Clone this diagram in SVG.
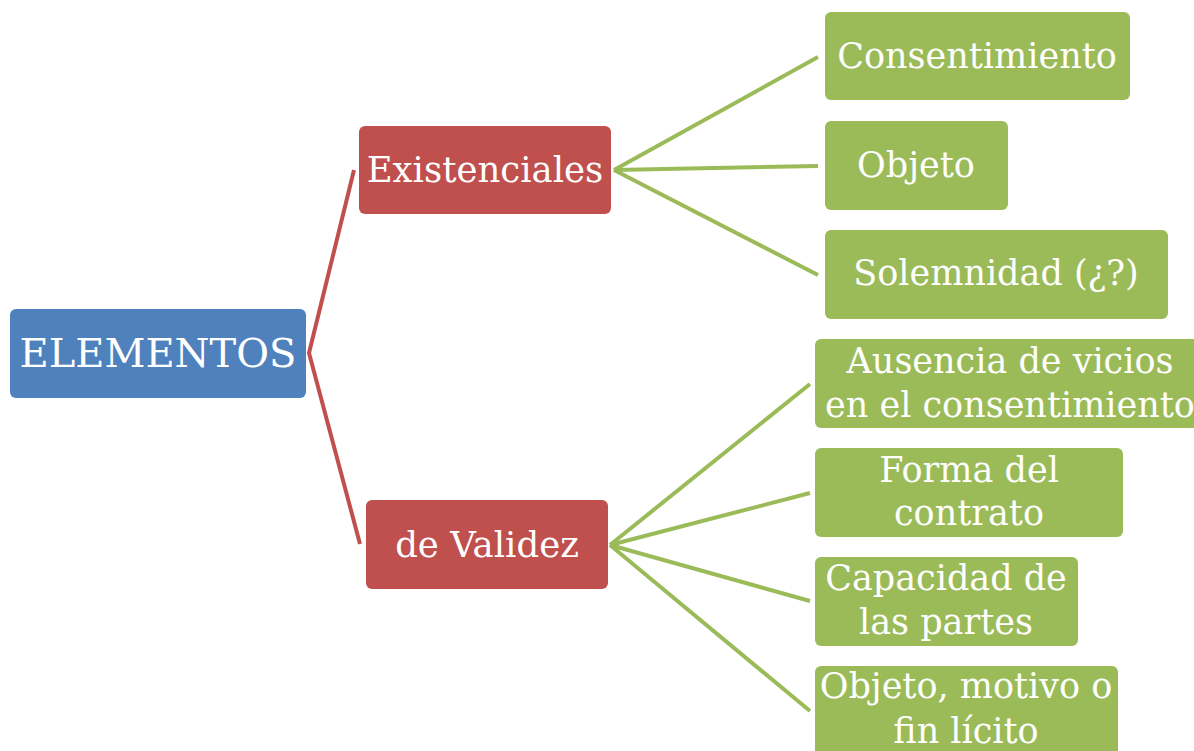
<svg xmlns="http://www.w3.org/2000/svg" width="1194" height="751" viewBox="0 0 1194 751">
<style>
.blue{fill:#4F81BD}
.red{fill:#C0504D}
.green{fill:#9BBB59}
text{font-family:"DejaVu Serif","Liberation Serif",serif;fill:#fff;text-anchor:middle}
.t1{font-size:40px}
.t2{font-size:35.5px}
.t3{font-size:35px}
.cr{fill:none;stroke:#C0504D;stroke-width:4}
.cg{fill:none;stroke:#9BBB59;stroke-width:4}
</style>
<rect width="1194" height="751" fill="#fff"/>
<g id="connectors">
<polyline class="cr" points="354,170 309,353 360,544"/>
<line class="cg" x1="614" y1="170" x2="818" y2="57"/>
<line class="cg" x1="614" y1="170" x2="818" y2="166"/>
<line class="cg" x1="614" y1="170" x2="818" y2="275"/>
<line class="cg" x1="610" y1="545" x2="810" y2="384"/>
<line class="cg" x1="610" y1="545" x2="810" y2="493"/>
<line class="cg" x1="610" y1="545" x2="810" y2="601"/>
<line class="cg" x1="610" y1="545" x2="810" y2="711"/>
</g>
<g id="n-elementos"><rect class="blue" x="10" y="309" width="296" height="89" rx="6"/><text class="t1" x="158" y="367">ELEMENTOS</text></g>
<g id="n-existenciales"><rect class="red" x="359" y="126" width="252" height="88" rx="6"/><text class="t2" x="485" y="182">Existenciales</text></g>
<g id="n-validez"><rect class="red" x="366" y="500" width="242" height="89" rx="6"/><text class="t2" x="487" y="557">de Validez</text></g>
<g id="n-consentimiento"><rect class="green" x="825" y="12" width="305" height="88" rx="6"/><text class="t3" x="977" y="68">Consentimiento</text></g>
<g id="n-objeto"><rect class="green" x="825" y="121" width="183" height="89" rx="6"/><text class="t3" x="916" y="177">Objeto</text></g>
<g id="n-solemnidad"><rect class="green" x="825" y="230" width="343" height="89" rx="6"/><text class="t3" x="996" y="285">Solemnidad (¿?)</text></g>
<g id="n-ausencia"><rect class="green" x="815" y="339" width="390" height="89" rx="6"/><text class="t3" x="1010" y="373">Ausencia de vicios</text><text class="t3" x="1010" y="417">en el consentimiento</text></g>
<g id="n-forma"><rect class="green" x="815" y="448" width="308" height="89" rx="6"/><text class="t3" x="969" y="482">Forma del</text><text class="t3" x="969" y="525">contrato</text></g>
<g id="n-capacidad"><rect class="green" x="815" y="557" width="263" height="89" rx="6"/><text class="t3" x="946" y="590">Capacidad de</text><text class="t3" x="946" y="634">las partes</text></g>
<g id="n-objeto-motivo"><rect class="green" x="815" y="666" width="303" height="95" rx="6"/><text class="t3" x="966" y="698">Objeto, motivo o</text><text class="t3" x="966" y="743">fin lícito</text></g>
</svg>
